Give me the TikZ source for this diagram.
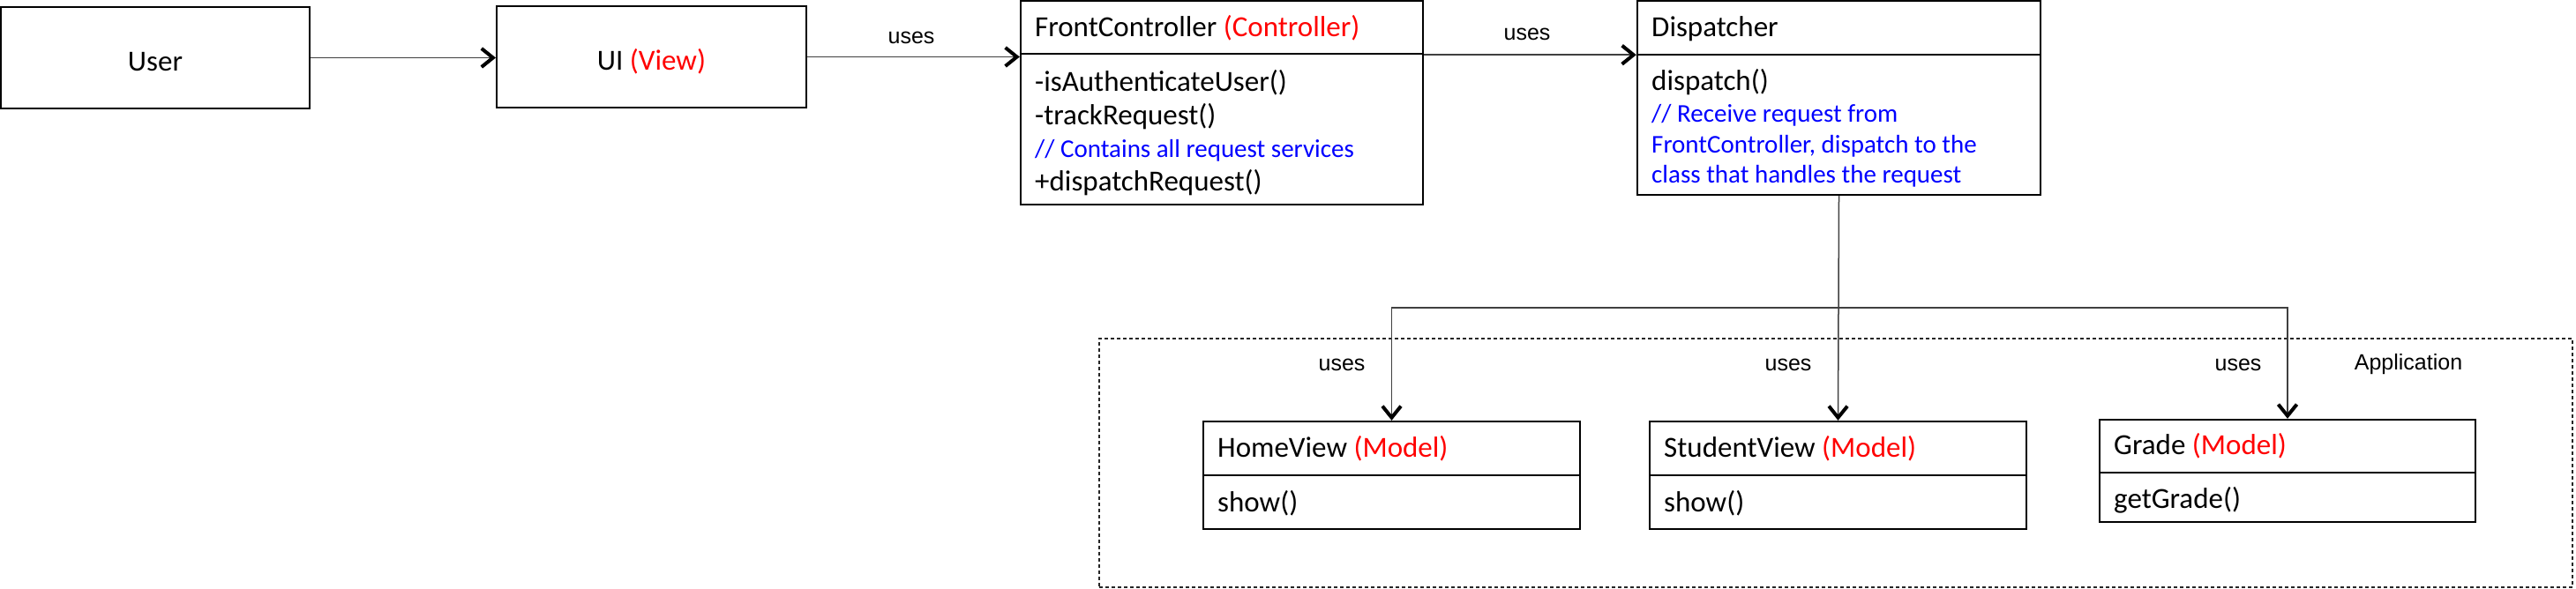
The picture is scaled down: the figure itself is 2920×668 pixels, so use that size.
\documentclass[tikz,border=0pt]{standalone}
\usepackage{fontspec}
\setmainfont{Carlito}
\newfontfamily\arialf{Liberation Sans}
\usetikzlibrary{arrows.meta,calc}
\definecolor{cred}{RGB}{255,0,0}
\definecolor{cblue}{RGB}{0,0,255}
\newcommand\msz{\fontsize{33}{37}\selectfont}
\newcommand\csz{\fontsize{29}{34}\selectfont}
\newcommand\lsz{\arialf\fontsize{25}{30}\selectfont}
\begin{document}
\begin{tikzpicture}[x=1pt,y=-1pt,
  box/.style={draw=black, line width=2pt, inner sep=0pt, font=\msz, text height=30pt, text depth=0pt},
  cbox/.style={draw=black, line width=2.4pt, inner sep=0pt},
  txt/.style={anchor=west, inner sep=0pt, font=\msz, text height=0.72em, text depth=0.22em, yshift=-6pt},
  cmt/.style={anchor=west, inner sep=0pt, font=\csz, text=cblue, text height=0.72em, text depth=0.22em, yshift=-6pt},
  lbl/.style={inner sep=0pt, font=\lsz, yshift=-3pt},
  line/.style={draw=black!75, line width=1.5pt},
  conn/.style={line, -{Straight Barb[length=13pt,width=21pt,line width'=4pt,color=black]}},
  appbox/.style={draw=black!85, line width=1.3pt, dash pattern=on 4pt off 3pt, inner sep=0pt}
]
\useasboundingbox (0,0) rectangle (2920,668);

% application frame
\node[appbox, minimum width=1670pt, minimum height=282pt] (app) at (2081,525) {};
\node[lbl] (applbl) at (2730,410) {Application};

% User and UI
\node[box, minimum width=350pt, minimum height=115pt] (user) at (176,65.5) {User};
\node[box, minimum width=351pt, minimum height=115pt] (ui) at (738.5,64.5) {UI \textcolor{cred}{(View)}};

% FrontController
\node[cbox, minimum width=456pt, minimum height=60pt] (fch) at (1385,31) {};
\node[cbox, minimum width=456pt, minimum height=171pt] (fcb) at (1385,146.5) {};
\node[txt] (fct) at (1173,33) {FrontController \textcolor{cred}{(Controller)}};
\node[txt] (fc1) at (1173,95) {-isAuthenticateUser()};
\node[txt] (fc2) at (1173,133) {-trackRequest()};
\node[cmt] (fc3) at (1173,170) {// Contains all request services};
\node[txt] (fc4) at (1173,208) {+dispatchRequest()};

% Dispatcher
\node[cbox, minimum width=457pt, minimum height=61pt] (dh) at (2084.5,31.5) {};
\node[cbox, minimum width=457pt, minimum height=159pt] (db) at (2084.5,141.5) {};
\node[txt] (dt) at (1872,33) {Dispatcher};
\node[txt] (d1) at (1872,94) {dispatch()};
\node[cmt] (d2) at (1872,130) {// Receive request from};
\node[cmt] (d3) at (1872,165) {FrontController, dispatch to the};
\node[cmt] (d4) at (1872,199) {class that handles the request};

% HomeView
\node[cbox, minimum width=427pt, minimum height=61pt] (hh) at (1577.5,508.5) {};
\node[cbox, minimum width=427pt, minimum height=61pt] (hb) at (1577.5,569.5) {};
\node[txt] (ht) at (1380,510) {HomeView \textcolor{cred}{(Model)}};
\node[txt] (h1) at (1380,572) {show()};

% StudentView
\node[cbox, minimum width=427pt, minimum height=61pt] (sh) at (2083.5,508.5) {};
\node[cbox, minimum width=427pt, minimum height=61pt] (sb) at (2083.5,569.5) {};
\node[txt] (st) at (1886,510) {StudentView \textcolor{cred}{(Model)}};
\node[txt] (s1) at (1886,572) {show()};

% Grade
\node[cbox, minimum width=426pt, minimum height=60pt] (gh) at (2593,506) {};
\node[cbox, minimum width=426pt, minimum height=56pt] (gb) at (2593,564) {};
\node[txt] (gt) at (2396,507) {Grade \textcolor{cred}{(Model)}};
\node[txt] (g1) at (2396,568) {getGrade()};

% connectors
\draw[conn] (user.east) -- (user.east -| ui.west);
\draw[conn] (ui.east) -- (ui.east -| fch.west);
\node[lbl] (u1) at (1033,40) {uses};
\draw[conn] (fch.south east) -- (fch.south east -| dh.west);
\node[lbl] (u2) at (1731,36) {uses};

\coordinate (j) at (2084.5,349);
\draw[conn] (db.south) -- (sh.north);
\draw[conn] (j) -| (hh.north);
\draw[conn] (j) -| (gh.north);
\node[lbl] (u3) at (1521,411) {uses};
\node[lbl] (u4) at (2027,411) {uses};
\node[lbl] (u5) at (2537,411) {uses};
\end{tikzpicture}
\end{document}
